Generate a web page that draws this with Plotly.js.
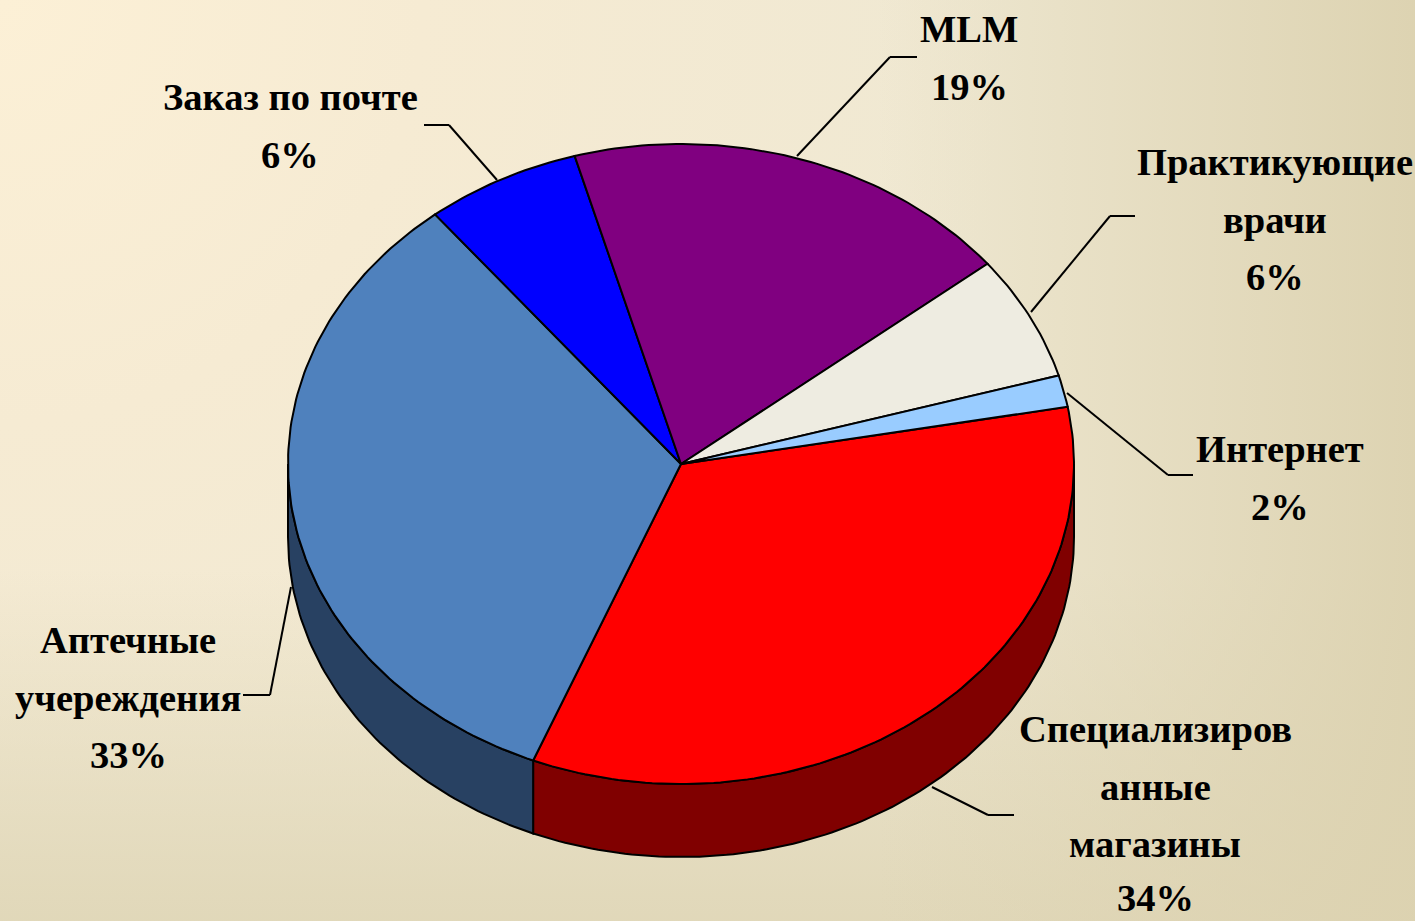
<!DOCTYPE html>
<html><head><meta charset="utf-8">
<script src="https://cdn.plot.ly/plotly-3.0.1.min.js"></script>
<style>
html,body{margin:0;padding:0;width:1415px;height:921px;overflow:hidden;
background:
 linear-gradient(to right,rgba(220,210,176,0) 62%,rgba(220,210,176,0.95) 100%),
 linear-gradient(to bottom,rgba(224,215,184,0) 62%,rgba(224,215,184,0.95) 100%),
 radial-gradient(circle at 0 0,#FCF0D6 0,#F6EBD3 25%,#EFE8D2 60%);
}
#chart{width:1415px;height:921px}
</style></head><body><div id="chart"></div>
<script>
// Data, clockwise from the red slice
var categories = ["Специализированные магазины","Аптечные учереждения","Заказ по почте","MLM","Практикующие врачи","Интернет"];
var shareValues = [34.0,33.1,6.4,18.6,6.3,1.6];
var shownPercent = [34,33,6,19,6,2];
var topColors  = ["#FF0000","#4F81BD","#0000FF","#800080","#EEECE1","#99CCFF"];
var wallColors = ["#800000","#284162","#000080","#400040","#77766F","#4D6680"];
var labelLines = [["Специализиров","анные","магазины"],["Аптечные","учереждения"],["Заказ по почте"],["MLM"],["Практикующие","врачи"],["Интернет"]];
var labelCenterX = [1155,128,290,969,1275,1280];
var labelFirstY  = [729,640,97,29,162,449];
var leaderX = [[1014,988,932],[243,270,291],[424,449,497],[917,890,797],[1135,1110,1031],[1193,1168,1067]];
var leaderY = [[815,815,787],[695,695,587],[125,125,180],[57,57,156],[216,216,312],[475,475,393]];

// Geometry of the tilted pie
var W=1415,H=921,CX=681,CY=464,RX=393,RY=320,DEPTH=73,START=79.7,LINE_STEP=57.6,FONT=38.5,MAX_LABEL_Y=H-23;
var depthU=DEPTH/RY;
function px(a){return Math.sin(a*Math.PI/180);}
function py(a){return Math.cos(a*Math.PI/180);}
function arc(a0,a1){var p=[],n=Math.max(2,Math.ceil(Math.abs(a1-a0)));for(var i=0;i<=n;i++)p.push(a0+(a1-a0)*i/n);return p;}

var total=shareValues.reduce(function(s,v){return s+v;},0);
var walls=[],tops=[],ang=START;
shareValues.forEach(function(v,i){
  var a0=ang,a1=ang+v/total*360;ang=a1;
  // wall: only the front half of the rim (90..270 degrees from the top)
  var w0=Math.max(a0,90),w1=Math.min(a1,270);
  if(w1>w0){
    var up=arc(w0,w1),dn=up.slice().reverse();
    walls.push({type:"scatter",mode:"lines",fill:"toself",fillcolor:wallColors[i],name:categories[i],hoverinfo:"skip",
      line:{color:"#000",width:2},
      x:up.map(px).concat(dn.map(px),[px(up[0])]),
      y:up.map(py).concat(dn.map(function(a){return py(a)-depthU;}),[py(up[0])])});
  }
  var a=arc(a0,a1);
  tops.push({type:"scatter",mode:"lines",fill:"toself",fillcolor:topColors[i],name:categories[i],
    text:categories[i]+" "+shownPercent[i]+"%",hoverinfo:"text",
    line:{color:"#000",width:2},
    x:[0].concat(a.map(px),[0]),y:[0].concat(a.map(py),[0])});
});

var paperX=function(p){return p/W;},paperY=function(p){return 1-p/H;};
var annotations=[],shapes=[];
labelLines.forEach(function(lines,i){
  lines.concat([shownPercent[i]+"%"]).forEach(function(t,k){
    annotations.push({xref:"paper",yref:"paper",x:paperX(labelCenterX[i]),
      y:paperY(Math.min(MAX_LABEL_Y,labelFirstY[i]+k*LINE_STEP)),
      text:"<b>"+t+"</b>",showarrow:false,xanchor:"center",yanchor:"middle",
      font:{family:"'Liberation Serif','Times New Roman',serif",size:FONT,color:"#000"}});
  });
  for(var s=0;s<2;s++){
    shapes.push({type:"line",xref:"paper",yref:"paper",x0:paperX(leaderX[i][s]),y0:paperY(leaderY[i][s]),
      x1:paperX(leaderX[i][s+1]),y1:paperY(leaderY[i][s+1]),line:{color:"#000",width:2}});
  }
});

var layout={width:W,height:H,margin:{l:0,r:0,t:0,b:0},showlegend:false,
  paper_bgcolor:"rgba(0,0,0,0)",plot_bgcolor:"rgba(0,0,0,0)",
  xaxis:{visible:false,fixedrange:true,range:[(0-CX)/RX,(W-CX)/RX]},
  yaxis:{visible:false,fixedrange:true,range:[(CY-H)/RY,(CY-0)/RY]},
  annotations:annotations,shapes:shapes};
Plotly.newPlot("chart",walls.concat(tops),layout,{displayModeBar:false});
</script></body></html>
